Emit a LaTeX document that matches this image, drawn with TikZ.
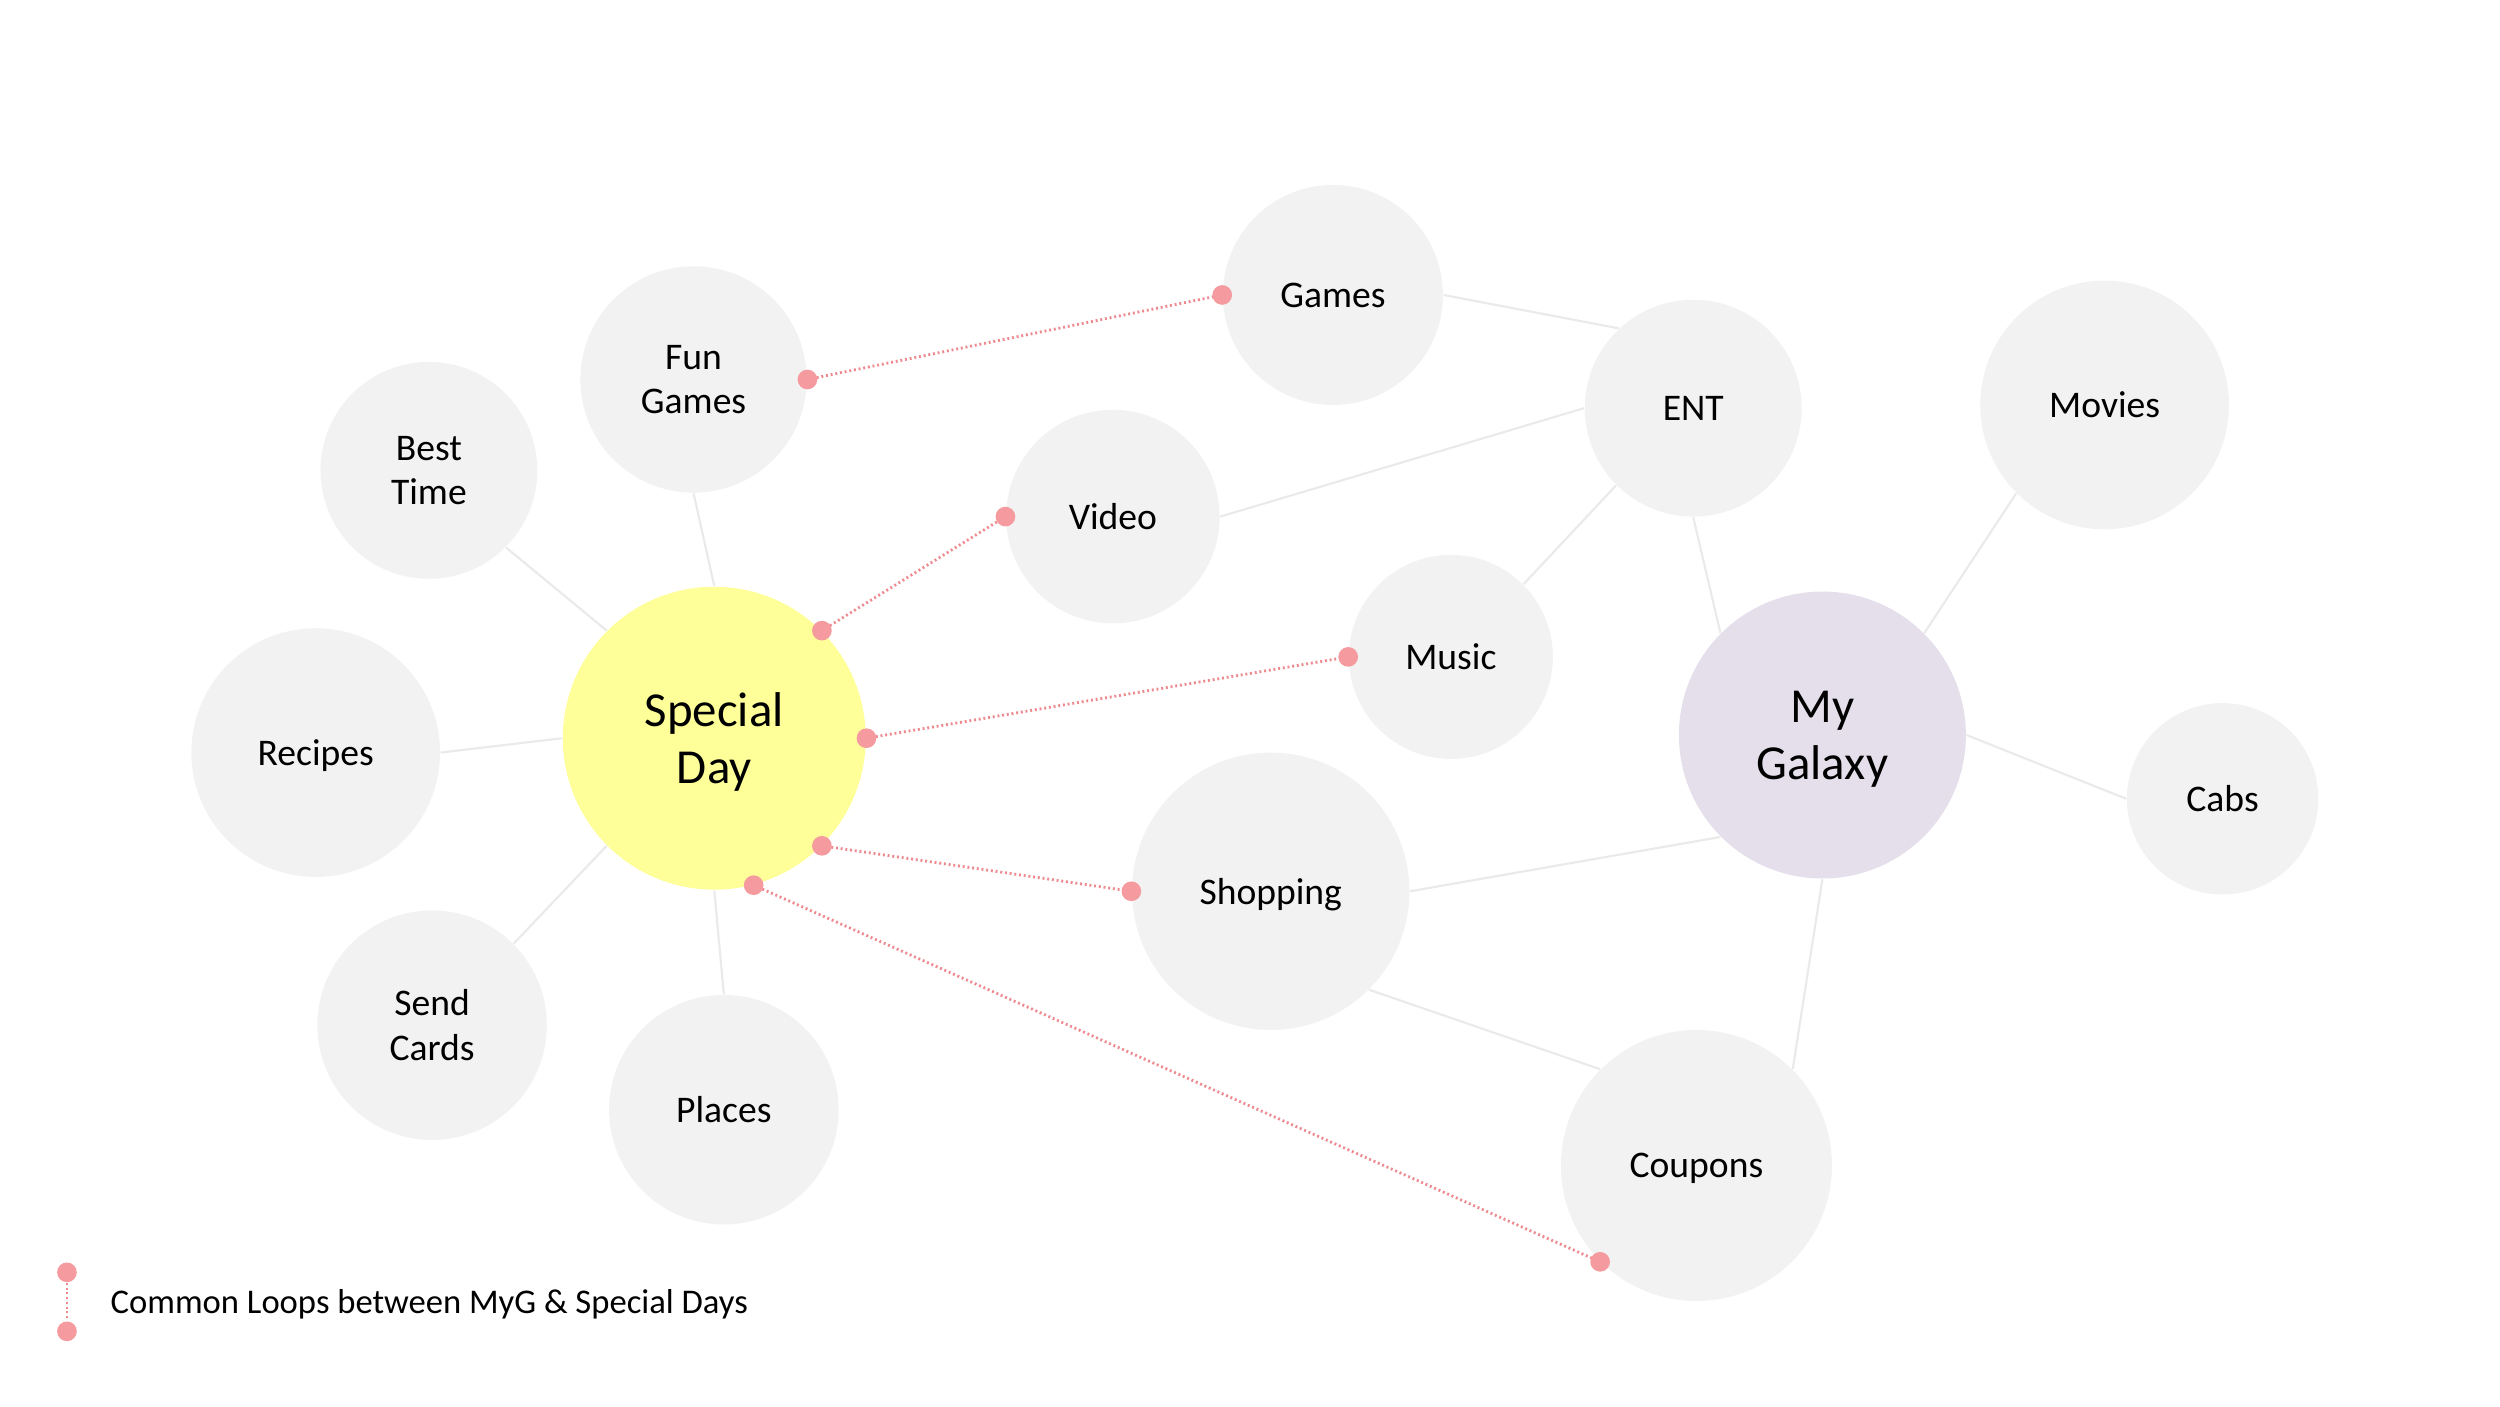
\documentclass[tikz,border=0pt]{standalone}
\usepackage{fontspec}
\setmainfont{Carlito}
\definecolor{bubble}{HTML}{F2F2F2}
\definecolor{sdyellow}{HTML}{FFFF99}
\definecolor{mgpurple}{HTML}{E4DFEB}
\definecolor{linkgrey}{HTML}{EAEAEA}
\definecolor{loopred}{HTML}{EE8A8F}
\definecolor{dotred}{HTML}{F59A9E}
\begin{document}
\begin{tikzpicture}[x=0.015944cm, y=-0.015944cm,
  bub/.style={circle, fill=bubble, draw=none, inner sep=0pt, align=center, text depth=0pt,
    font=\fontsize{10.7pt}{12.7pt}\selectfont},
  big/.style={circle, draw=none, inner sep=0pt, align=center, text depth=0pt,
    font=\fontsize{13.9pt}{16.3pt}\selectfont},
  link/.style={draw=linkgrey, line width=0.6pt},
  loop/.style={draw=loopred, line width=0.8pt, dash pattern=on 0.55pt off 0.8pt},
  dotmark/.style={circle, fill=dotred, draw=none, inner sep=0pt, minimum size=5.6pt}]
\path[use as bounding box, fill=white] (0,0) rectangle (1568,882);

% main nodes
\node[big, fill=sdyellow, minimum size=86.2pt] (sd) at (448,463) {Special\\Day};
\node[big, fill=mgpurple, minimum size=81.65pt] (mg) at (1143,461) {My\\Galaxy};

\node[bub, minimum size=62.6pt] (games) at (836,185) {Games};
\node[bub, minimum size=64.4pt] (fungames) at (435,238) {Fun\\Games};
\node[bub, minimum size=61.7pt] (besttime) at (269,295) {Best\\Time};
\node[bub, minimum size=70.75pt] (recipes) at (198,472) {Recipes};
\node[bub, minimum size=65.3pt] (sendcards) at (271,643) {Send\\Cards};
\node[bub, minimum size=65.3pt] (places) at (454,696) {Places};
\node[bub, minimum size=60.75pt] (video) at (698,324) {Video};
\node[bub, minimum size=58.05pt] (music) at (910,412) {Music};
\node[bub, minimum size=61.7pt] (ent) at (1062,256) {ENT};
\node[bub, minimum size=70.75pt] (movies) at (1320,254) {Movies};
\node[bub, minimum size=54.45pt] (cabs) at (1394,501) {Cabs};
\node[bub, minimum size=78.9pt] (shopping) at (797,559) {Shopping};
\node[bub, minimum size=77.1pt] (coupons) at (1064,731) {Coupons};

% grey links
\draw[link] (games.east) -- (ent.133);
\draw[link] (video.east) -- (ent.west);
\draw[link] (music.45) -- (ent.225);
\draw[link] (ent.south) -- (mg.135);
\draw[link] (mg.45) -- (movies.225);
\draw[link] (mg.east) -- (cabs.west);
\draw[link] (mg.225) -- (shopping.east);
\draw[link] (mg.south) -- (coupons.45);
\draw[link] (shopping.-45) -- (coupons.135);
\draw[link] (sd.north) -- (fungames.south);
\draw[link] (sd.135) -- (besttime.-45);
\draw[link] (sd.west) -- (recipes.east);
\draw[link] (sd.225) -- (sendcards.45);
\draw[link] (sd.south) -- (places.north);

% common loops
\draw[loop] (fungames.east) -- (games.west);
\draw[loop] (sd.45) -- (video.west);
\draw[loop] (sd.east) -- (music.west);
\draw[loop] (sd.-45) -- (shopping.west);
\draw[loop] (sd.-75) -- (coupons.225);

\foreach \p in {fungames.east, games.west, sd.45, video.west, sd.east, music.west,
  sd.-45, shopping.west, sd.-75, coupons.225}
  \node[dotmark] at (\p) {};

% legend
\node[dotmark] (l1) at (42,798) {};
\node[dotmark] (l2) at (42,835) {};
\draw[loop] (l1) -- (l2);
\node[anchor=west, inner sep=0pt, font=\fontsize{9.85pt}{12pt}\selectfont] (legend) at (69,818)
  {Common Loops between MyG \& Special Days};
\end{tikzpicture}
\end{document}
